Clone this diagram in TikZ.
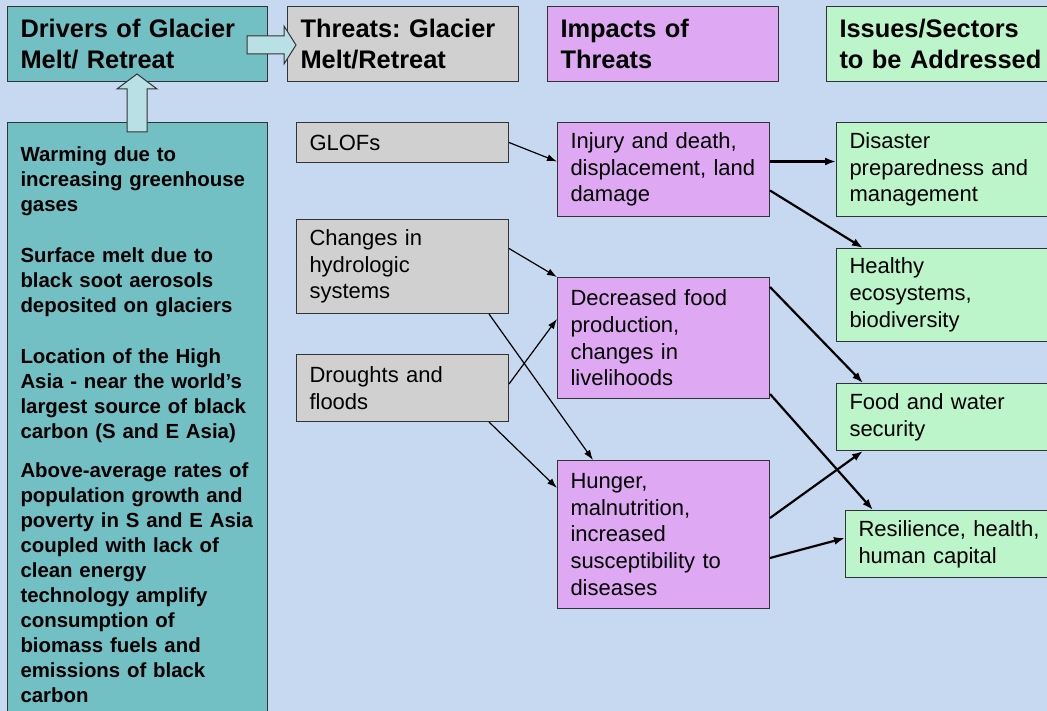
\documentclass[tikz,border=0pt]{standalone}
\usepackage{fontspec}
\setmainfont{Liberation Sans}
\usetikzlibrary{arrows.meta}
\definecolor{bgblue}{RGB}{198,217,241}
\definecolor{tealc}{RGB}{114,192,196}
\definecolor{arrowcyan}{RGB}{185,224,228}
\definecolor{grayc}{RGB}{208,208,208}
\definecolor{violetc}{RGB}{223,168,243}
\definecolor{greenc}{RGB}{188,245,201}
\frenchspacing

\begin{document}
\begin{tikzpicture}[x=1pt,y=-1pt,
  box/.style={draw=black!80,line width=1pt,anchor=north west,align=left,inner xsep=13pt,inner ysep=0pt,text width=186pt,font=\fontsize{22}{26.7}\selectfont},
  head/.style={box,minimum height=75pt,text width=205pt,font=\fontsize{25.4}{31.7}\selectfont\bfseries},
  arrowthin/.style={-{Latex[length=10pt,width=7pt]},line width=1.2pt},
  arrowthick/.style={-{Latex[length=11pt,width=8pt]},line width=2.2pt},
  blockarrow/.style={draw=black!80,line width=1pt,fill=arrowcyan}]
\useasboundingbox (0,0) rectangle (1047,711);
\fill[bgblue] (0,0) rectangle (1047,711);

\node[head,fill=tealc,text width=234pt] (drivers) at (7,6) {Drivers of Glacier\\Melt/ Retreat};
\node[head,fill=grayc] (threats) at (287,6) {Threats: Glacier\\Melt/Retreat};
\node[head,fill=violetc] (impacts) at (547,6) {Impacts of\\Threats};
\node[head,fill=greenc] (issues) at (826,6) {Issues/Sectors\\to be Addressed};

\node[box,fill=tealc,text width=240pt,inner xsep=10pt,inner ysep=24pt,font=\fontsize{20.4}{25}\selectfont\bfseries] (causes) at (7,122)
  {\hspace*{3pt}\parbox[t]{237pt}{Warming due to\\increasing greenhouse\\gases\\[26pt]
   Surface melt due to\\black soot aerosols\\deposited on glaciers\\[26pt]
   Location of the High\\Asia - near the world’s\\largest source of black\\carbon (S and E Asia)\\[14pt]
   Above-average rates of\\population growth and\\poverty in S and E Asia\\coupled with lack of\\clean energy\\technology amplify\\consumption of\\biomass fuels and\\emissions of black\\carbon}};

\node[box,fill=grayc,minimum height=40pt] (glofs) at (296,122) {GLOFs};
\node[box,fill=grayc,minimum height=94pt] (changes) at (296,219) {Changes in\\hydrologic\\systems};
\node[box,fill=grayc,minimum height=67pt] (droughts) at (296,354) {Droughts and\\floods};

\node[box,fill=violetc,minimum height=94pt] (injury) at (557,122) {Injury and death,\\displacement, land\\damage};
\node[box,fill=violetc,minimum height=121pt] (decreased) at (557,277) {Decreased food\\production,\\changes in\\livelihoods};
\node[box,fill=violetc,minimum height=148pt] (hunger) at (557,460) {Hunger,\\malnutrition,\\increased\\susceptibility to\\diseases};

\node[box,fill=greenc,minimum height=94pt] (disaster) at (836,122) {Disaster\\preparedness and\\management};
\node[box,fill=greenc,minimum height=93pt] (healthy) at (836,248) {Healthy\\ecosystems,\\biodiversity};
\node[box,fill=greenc,minimum height=67pt] (food) at (836,383) {Food and water\\security};
\node[box,fill=greenc,minimum height=67pt] (resilience) at (845,510) {Resilience, health,\\human capital};

\draw[blockarrow] (247,36)--(284,36)--(284,26)--(296,45)--(284,64)--(284,54)--(247,54)--cycle;
\draw[blockarrow] (127,132)--(127,89)--(117,89)--(137,74)--(157,89)--(147,89)--(147,132)--cycle;

\draw[arrowthin] (glofs.east)--([yshift=8pt]injury.west);
\draw[arrowthin] ([yshift=18pt]changes.east)--(decreased.north west);
\draw[arrowthin] ([xshift=-20pt]changes.south east)--([xshift=36pt]hunger.north west);
\draw[arrowthin] ([yshift=4pt]droughts.east)--([yshift=19pt]decreased.west);
\draw[arrowthin] ([xshift=-20pt]droughts.south east)--([yshift=-28pt]hunger.north west);

\draw[arrowthick] ([yshift=8pt]injury.east)--([yshift=8pt]disaster.west);
\draw[arrowthick] ([yshift=-21pt]injury.east)--([xshift=27pt]healthy.north west);
\draw[arrowthick] ([yshift=-10pt]decreased.north east)--([xshift=27pt]food.north west);
\draw[arrowthick] ([yshift=5pt]decreased.south east)--([xshift=28pt]resilience.north west);
\draw[arrowthick] ([yshift=-58pt]hunger.north east)--([xshift=27pt]food.south west);
\draw[arrowthick] ([yshift=51pt]hunger.south east)--([yshift=6pt]resilience.west);
\end{tikzpicture}
\end{document}
